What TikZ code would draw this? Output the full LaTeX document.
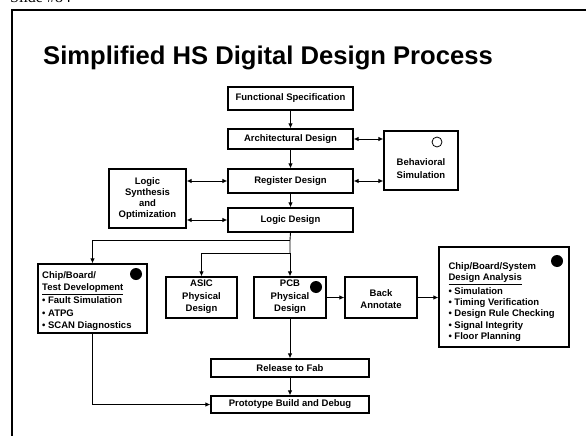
\documentclass[tikz,border=0pt]{standalone}
\usepackage{fontspec}
\setmainfont{Liberation Sans}
\newfontfamily\slidefont{Liberation Serif}
\usetikzlibrary{arrows.meta}
\tikzset{
  box/.style={draw, line width=1.3pt, inner sep=0pt, align=center, anchor=center},
  txt/.style={inner sep=0pt, font=\bfseries\fontsize{9.5}{12.5}\selectfont, align=center},
  ltxt/.style={inner sep=0pt, font=\bfseries\fontsize{9.5}{12}\selectfont, anchor=base west},
  arr/.style={line width=0.9pt, -{Latex[length=5pt,width=4.5pt]}},
  arrb/.style={line width=0.9pt, {Latex[length=5pt,width=4.5pt]}-{Latex[length=5pt,width=4.5pt]}},
  dotf/.style={fill=black},
  doto/.style={draw, line width=0.8pt, fill=white}
}
\begin{document}
\begin{tikzpicture}[x=1pt,y=-1pt]
\useasboundingbox (0,0) rectangle (586,436);
\fill[white] (0,0) rectangle (586,436);
% slide label (mostly cut off)
\node[inner sep=0pt, anchor=base west, font=\slidefont\fontsize{16}{18}\selectfont] (slide) at (10,3) {Slide \#84};
% frame
\draw[line width=1.5pt] (12,440) -- (12,10) -- (590,10);
% title
\node[inner sep=0pt, anchor=base, font=\bfseries\fontsize{25.6}{28}\selectfont] (title) at (268,65) {Simplified HS Digital Design Process};

% main column
\node[box, minimum width=125pt, minimum height=23pt, txt] (func) at (290.5,98.5) {Functional Specification};
\node[box, minimum width=125pt, minimum height=20pt, txt] (arch) at (290.5,139) {Architectural Design};
\node[box, minimum width=125pt, minimum height=24pt, txt] (reg) at (290.5,181) {Register Design};
\node[box, minimum width=125pt, minimum height=24pt, txt] (logic) at (290.5,220) {Logic Design};

% behavioral simulation
\node[box, minimum width=74pt, minimum height=59pt] (behav) at (421,160.5) {};
\node[txt] (behavtxt) at (421,168.5) {Behavioral\\Simulation};
\draw[doto] (437,142) circle (5pt);

% logic synthesis
\node[box, minimum width=77pt, minimum height=59pt, txt, font=\bfseries\fontsize{9.5}{11}\selectfont] (ls) at (147.5,198.5) {Logic\\Synthesis\\and\\Optimization};

% test development box
\node[box, minimum width=109pt, minimum height=69pt] (test) at (92.5,298.5) {};
\fill[dotf] (136,274) circle (6pt);
\node[ltxt] (t1) at (42,278.5) {Chip/Board/};
\node[ltxt] (t2) at (42,290.5) {\underline{Test Development}};
\node[ltxt] (t3) at (42,303.3) {\textbullet\ Fault Simulation};
\node[ltxt] (t4) at (42,316) {\textbullet\ ATPG};
\node[ltxt] (t5) at (42,328.3) {\textbullet\ SCAN Diagnostics};

% physical design boxes
\node[box, minimum width=71pt, minimum height=41pt] (asic) at (201.5,297.5) {};
\node[txt] (asictxt) at (201.5,297) {ASIC\\Physical\\Design};
\node[box, minimum width=72pt, minimum height=41pt] (pcb) at (290,297.5) {};
\node[txt] (pcbtxt) at (290,297) {PCB\\Physical\\Design};
\fill[dotf] (316,287) circle (6pt);
\node[box, minimum width=72pt, minimum height=41pt] (back) at (381,297.5) {};
\node[txt] (backtxt) at (381,299) {Back\\Annotate};

% system design analysis
\node[box, minimum width=130pt, minimum height=100pt] (sys) at (504,297) {};
\fill[dotf] (557,261) circle (6pt);
\node[ltxt] (s1) at (448.3,269) {Chip/Board/System};
\node[ltxt] (s2) at (448.3,280.7) {\underline{Design Analysis}};
\node[ltxt] (s3) at (448.3,294) {\textbullet\ Simulation};
\node[ltxt] (s4) at (448.3,305.3) {\textbullet\ Timing Verification};
\node[ltxt] (s5) at (448.3,316.6) {\textbullet\ Design Rule Checking};
\node[ltxt] (s6) at (448.3,328) {\textbullet\ Signal Integrity};
\node[ltxt] (s7) at (448.3,339.5) {\textbullet\ Floor Planning};

% release and prototype
\node[box, minimum width=158pt, minimum height=18pt, txt] (rel) at (290,368) {Release to Fab};
\node[box, minimum width=158pt, minimum height=17pt, txt] (proto) at (290,404.5) {Prototype Build and Debug};

% connectors
\draw[arr] (func) -- (arch);
\draw[arr] (arch) -- (reg);
\draw[arr] (reg) -- (logic);
\draw[arrb] (arch.east) -- (arch.east -| behav.west);
\draw[arrb] (reg.east) -- (reg.east -| behav.west);
\draw[arrb] (reg.west -| ls.east) -- (reg.west);
\draw[arrb] (logic.west -| ls.east) -- (logic.west);

\coordinate (j1) at (290,240);
\coordinate (j2) at (290,253);
\draw[line width=0.9pt] (logic.south) -- (j1) -- (j2);
\draw[arr] (j1) -| (test.north);
\draw[arr] (j2) -| (asic.north);
\draw[arr] (j2) -- (pcb.north);
\draw[arr] (pcb) -- (back);
\draw[arr] (back) -- (sys.west |- back.east);
\draw[arr] (pcb) -- (rel);
\draw[arr] (rel) -- (proto);
\draw[arr] (test.south) |- (proto.west);
\end{tikzpicture}
\end{document}
